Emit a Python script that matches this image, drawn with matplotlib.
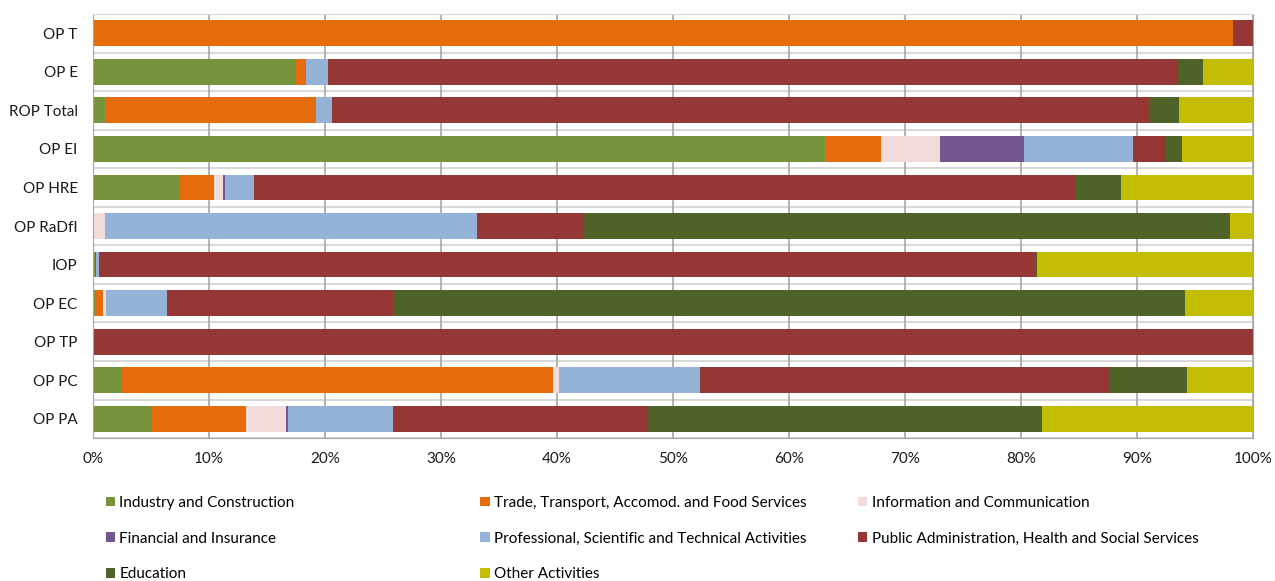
import numpy as np
import matplotlib
matplotlib.use("Agg")
import matplotlib.pyplot as plt

plt.rcParams['font.family'] = ['Lato', 'DejaVu Sans']

programmes = ["OP T", "OP E", "ROP Total", "OP EI", "OP HRE", "OP RaDfI",
              "IOP", "OP EC", "OP TP", "OP PC", "OP PA"]

sectors = ["Industry and Construction",
           "Trade, Transport, Accomod. and Food Services",
           "Information and Communication",
           "Financial and Insurance",
           "Professional, Scientific and Technical Activities",
           "Public Administration, Health and Social Services",
           "Education",
           "Other Activities"]

# shares in %, one list per sector, same order as programmes
industry = [0.0, 17.5, 1.0, 63.1, 7.5, 0.0, 0.2, 0.2, 0.0, 2.5, 5.1]
trade = [98.3, 0.9, 18.2, 4.8, 2.9, 0.0, 0.0, 0.7, 0.0, 37.2, 8.1]
info_comm = [0.0, 0.0, 0.0, 5.1, 0.8, 1.0, 0.0, 0.2, 0.0, 0.5, 3.4]
financial = [0.0, 0.0, 0.0, 7.3, 0.2, 0.0, 0.1, 0.0, 0.0, 0.0, 0.2]
professional = [0.0, 1.9, 1.4, 9.4, 2.5, 32.1, 0.2, 5.3, 0.0, 12.1, 9.1]
public_admin = [1.7, 73.2, 70.4, 2.8, 70.8, 9.2, 80.7, 19.5, 100.0, 35.3, 21.9]
education = [0.0, 2.2, 2.6, 1.4, 3.9, 55.7, 0.2, 68.2, 0.0, 6.7, 34.0]
other = [0.0, 4.3, 6.4, 6.1, 11.4, 2.0, 18.6, 5.9, 0.0, 5.7, 18.2]

colors = ["#77933C", "#E46C0A", "#F2DCDB", "#73588F",
          "#95B3D7", "#953735", "#4F6228", "#C4BD06"]

series = [industry, trade, info_comm, financial,
          professional, public_admin, education, other]

fig = plt.figure(figsize=(12.75, 5.81), dpi=100)
ax = fig.add_axes([0.0729, 0.246, 0.9098, 0.730])

y = np.arange(len(programmes))
left = np.zeros(len(programmes))
bars = []
for vals, col, name in zip(series, colors, sectors):
    b = ax.barh(y, vals, left=left, height=0.67, color=col, label=name,
                edgecolor="none")
    bars.append(b)
    left += np.array(vals)

ax.set_xlim(0, 100)
ax.set_ylim(len(programmes) - 0.5, -0.5)
ax.set_xticks(np.arange(0, 101, 10))
ax.set_xticklabels([f"{v}%" for v in range(0, 101, 10)])
ax.set_yticks(y)
ax.set_yticklabels(programmes)
ax.tick_params(length=0, labelsize=11, colors="#1a1a1a")
ax.tick_params(axis="x", pad=10)
ax.tick_params(axis="y", pad=11)

# vertical grid plus light separators between categories
ax.set_axisbelow(True)
ax.xaxis.grid(True, color="#A6A6A6", linewidth=1.2)
for yb in np.arange(-0.5, len(programmes), 1.0):
    ax.axhline(yb, color="#D9D9D9", linewidth=1.5, zorder=0)
for s in ax.spines.values():
    s.set_color("#A6A6A6")
ax.spines["top"].set_color("#D9D9D9")

# legend laid out as three fixed columns, filled row by row
col_x = [0.078, 0.372, 0.668]
for c, x0 in enumerate(col_x):
    idx = list(range(c, len(sectors), 3))
    fig.legend([bars[i] for i in idx], [sectors[i] for i in idx],
               loc="upper left", bbox_to_anchor=(x0, 0.157),
               frameon=False, fontsize=11, handlelength=0.6,
               handleheight=0.6, handletextpad=0.3, labelspacing=1.42,
               borderaxespad=0)

fig.savefig("out.png", dpi=100)
